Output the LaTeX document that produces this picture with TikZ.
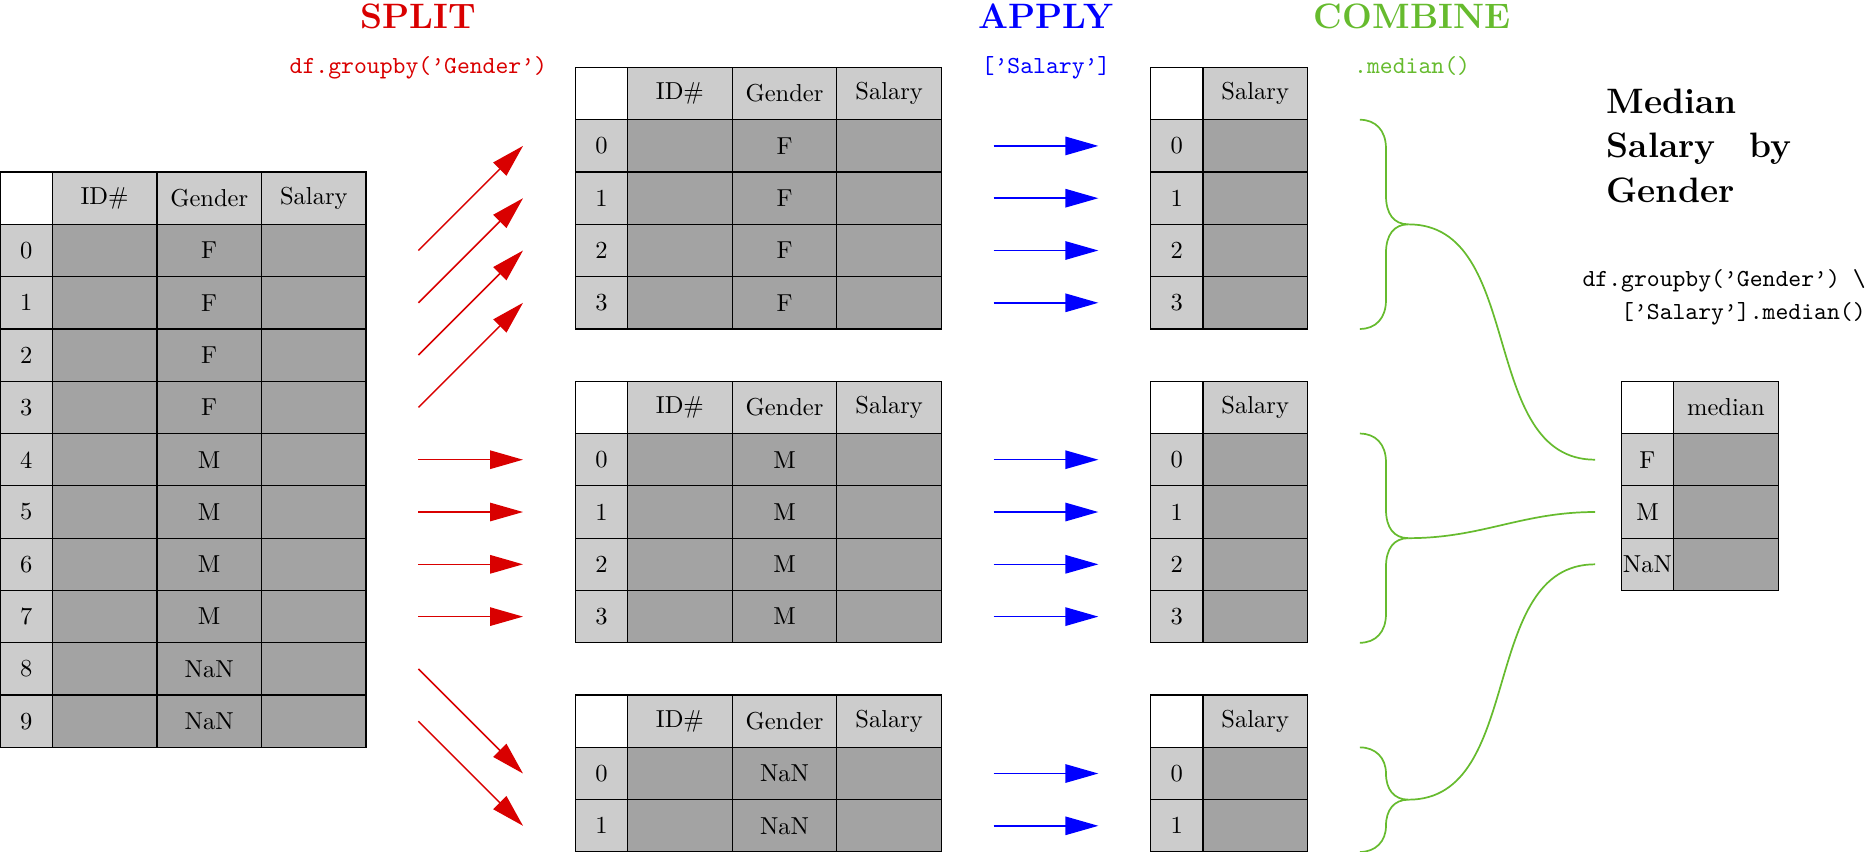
\documentclass[tikz,border=0pt]{standalone}
\usetikzlibrary{arrows.meta}
\definecolor{hdrgray}{RGB}{204,204,204}
\definecolor{bodygray}{RGB}{163,163,163}
\definecolor{splitred}{RGB}{217,0,0}
\definecolor{applyblue}{RGB}{0,0,255}
\definecolor{combgreen}{RGB}{102,187,46}
\newcommand{\grouptab}[4]{%
  \node[narrowcell, fill=white] (#1-h0) at (11,#2) {};
  \node[widecell, fill=hdrgray] (#1-h1) at (12,#2) {ID\#};
  \node[widecell, fill=hdrgray] (#1-h2) at (14,#2) {Gender};
  \node[widecell, fill=hdrgray] (#1-h3) at (16,#2) {Salary};
  \foreach \k in {0,...,#3} {
    \node[narrowcell, fill=hdrgray] (#1-\k-0) at (11,#2-1-\k) {\k};
    \node[widecell, fill=bodygray] (#1-\k-1) at (12,#2-1-\k) {};
    \node[widecell, fill=bodygray] (#1-\k-2) at (14,#2-1-\k) {#4};
    \node[widecell, fill=bodygray] (#1-\k-3) at (16,#2-1-\k) {};
  }
  \node[narrowcell, fill=white] (#1s-h0) at (22,#2) {};
  \node[widecell, fill=hdrgray] (#1s-h1) at (23,#2) {Salary};
  \foreach \k in {0,...,#3} {
    \node[narrowcell, fill=hdrgray] (#1s-\k-0) at (22,#2-1-\k) {\k};
    \node[widecell, fill=bodygray] (#1s-\k-1) at (23,#2-1-\k) {};
    \coordinate (#1-ap-\k) at (19,#2-0.5-\k);
    \coordinate (#1-aq-\k) at (21,#2-0.5-\k);
    \draw[bluearrow] (#1-ap-\k) -- (#1-aq-\k);
  }
}
\begin{document}
\begin{tikzpicture}[x=0.75cm,y=0.75cm,
  cellbox/.style={draw=black, line width=0.5pt, anchor=south west, inner sep=0pt, outer sep=0pt, minimum height=0.75cm},
  narrowcell/.style={cellbox, minimum width=0.75cm},
  widecell/.style={cellbox, minimum width=1.5cm},
  tipshape/.style={-{Triangle[length=13.4pt,width=7.5pt]}},
  redarrow/.style={draw=splitred, line width=0.6pt, tipshape},
  bluearrow/.style={draw=applyblue, line width=0.6pt, tipshape},
  greenline/.style={draw=combgreen, line width=0.7pt},
  steptitle/.style={anchor=base, font=\Large\bfseries},
  stepcode/.style={anchor=base, font=\ttfamily}
]
\useasboundingbox (0,0) rectangle (35.85,16.29);

% ---------- original table ----------
\node[narrowcell, fill=white] (L-h0) at (0,12) {};
\node[widecell, fill=hdrgray] (L-h1) at (1,12) {ID\#};
\node[widecell, fill=hdrgray] (L-h2) at (3,12) {Gender};
\node[widecell, fill=hdrgray] (L-h3) at (5,12) {Salary};
\foreach \i/\g in {0/F,1/F,2/F,3/F,4/M,5/M,6/M,7/M,8/NaN,9/NaN} {
  \node[narrowcell, fill=hdrgray] (L-\i-0) at (0,11-\i) {\i};
  \node[widecell, fill=bodygray] (L-\i-1) at (1,11-\i) {};
  \node[widecell, fill=bodygray] (L-\i-2) at (3,11-\i) {\g};
  \node[widecell, fill=bodygray] (L-\i-3) at (5,11-\i) {};
}

% ---------- groups ----------
\grouptab{F}{14}{3}{F}
\grouptab{M}{8}{3}{M}
\grouptab{N}{2}{1}{NaN}

% ---------- split arrows ----------
\foreach \k in {0,...,3} {
  \coordinate (rF-s\k) at (8,11.5-\k);
  \coordinate (rF-e\k) at (10,13.5-\k);
  \draw[redarrow] (rF-s\k) -- (rF-e\k);
  \coordinate (rM-s\k) at (8,7.5-\k);
  \coordinate (rM-e\k) at (10,7.5-\k);
  \draw[redarrow] (rM-s\k) -- (rM-e\k);
}
\foreach \k in {0,1} {
  \coordinate (rN-s\k) at (8,3.5-\k);
  \coordinate (rN-e\k) at (10,1.5-\k);
  \draw[redarrow] (rN-s\k) -- (rN-e\k);
}

% ---------- result table ----------
\node[narrowcell, fill=white] (R-h0) at (31,8) {};
\node[widecell, fill=hdrgray] (R-h1) at (32,8) {median};
\foreach \k/\g in {0/F,1/M,2/NaN} {
  \node[narrowcell, fill=hdrgray] (R-\k-0) at (31,7-\k) {\g};
  \node[widecell, fill=bodygray] (R-\k-1) at (32,7-\k) {};
}

% ---------- combine braces ----------
\draw[greenline] (26,14) .. controls (26.3,14) and (26.5,13.8) .. (26.5,13.45)
  -- (26.5,12.55) .. controls (26.5,12.2) and (26.65,12) .. (26.93,12)
  .. controls (26.65,12) and (26.5,11.8) .. (26.5,11.45)
  -- (26.5,10.55) .. controls (26.5,10.2) and (26.3,10) .. (26,10);
\draw[greenline] (26,8) .. controls (26.3,8) and (26.5,7.8) .. (26.5,7.45)
  -- (26.5,6.55) .. controls (26.5,6.2) and (26.65,6) .. (26.93,6)
  .. controls (26.65,6) and (26.5,5.8) .. (26.5,5.45)
  -- (26.5,4.55) .. controls (26.5,4.2) and (26.3,4) .. (26,4);
\draw[greenline] (26,2) .. controls (26.3,2) and (26.5,1.8) .. (26.5,1.5)
  .. controls (26.5,1.2) and (26.65,1) .. (26.93,1)
  .. controls (26.65,1) and (26.5,0.8) .. (26.5,0.5)
  .. controls (26.5,0.2) and (26.3,0) .. (26,0);
\coordinate (gF-tip) at (26.93,12);
\coordinate (gM-tip) at (26.93,6);
\coordinate (gN-tip) at (26.93,1);
\coordinate (gF-end) at (30.5,7.5);
\coordinate (gM-end) at (30.5,6.5);
\coordinate (gN-end) at (30.5,5.5);
\draw[greenline] (gF-tip) to[out=0,in=180] (gF-end);
\draw[greenline] (gM-tip) to[out=0,in=180] (gM-end);
\draw[greenline] (gN-tip) to[out=0,in=180] (gN-end);

% ---------- titles ----------
\node[steptitle, text=splitred] (split) at (8,15.75) {SPLIT};
\node[steptitle, text=applyblue] (apply) at (20,15.75) {APPLY};
\node[steptitle, text=combgreen] (combine) at (27,15.75) {COMBINE};
\node[stepcode, text=splitred] (splitcode) at (8,14.89) {df.groupby(’Gender’)};
\node[stepcode, text=applyblue] (applycode) at (20,14.89) {[’Salary’]};
\node[stepcode, text=combgreen] (combinecode) at (27,14.89) {.median()};

% ---------- result caption ----------
\node[anchor=north west, text width=75.5pt, inner sep=0pt, align=justify, font=\Large\bfseries] (caption) at (30.71,14.59) {\noindent Median Salary by Gender};
\node[anchor=base east, inner sep=0pt, font=\ttfamily] (codeA) at (35.68,10.82) {df.groupby(’Gender’) \textbackslash};
\node[anchor=base east, inner sep=0pt, font=\ttfamily] (codeB) at (35.68,10.18) {[’Salary’].median()};
\end{tikzpicture}
\end{document}
